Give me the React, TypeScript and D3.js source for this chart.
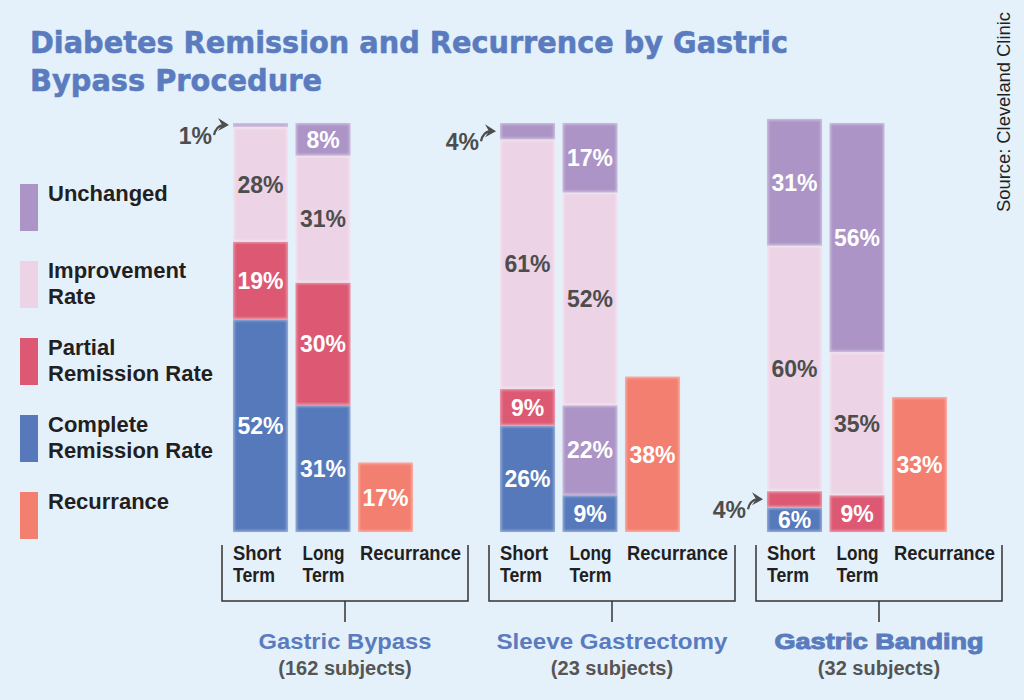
import React from 'react';
import * as d3 from 'd3';

type Seg = { cat: string; value: number };

const groups = ['Gastric Bypass', 'Sleeve Gastrectomy', 'Gastric Banding'];
const subjects = [162, 23, 32];
const terms = ['Short Term', 'Long Term', 'Recurrance'];
const termLines = [['Short', 'Term'], ['Long', 'Term'], ['Recurrance']];

// stacks are listed bottom to top
const shortTerm: Seg[][] = [
  [{ cat: 'complete', value: 52 }, { cat: 'partial', value: 19 }, { cat: 'improvement', value: 28 }, { cat: 'unchanged', value: 1 }],
  [{ cat: 'complete', value: 26 }, { cat: 'partial', value: 9 }, { cat: 'improvement', value: 61 }, { cat: 'unchanged', value: 4 }],
  [{ cat: 'complete', value: 6 }, { cat: 'partial', value: 4 }, { cat: 'improvement', value: 60 }, { cat: 'unchanged', value: 31 }],
];
const longTerm: Seg[][] = [
  [{ cat: 'complete', value: 31 }, { cat: 'partial', value: 30 }, { cat: 'improvement', value: 31 }, { cat: 'unchanged', value: 8 }],
  [{ cat: 'complete', value: 9 }, { cat: 'unchanged', value: 22 }, { cat: 'improvement', value: 52 }, { cat: 'unchanged', value: 17 }],
  [{ cat: 'complete', value: 0 }, { cat: 'partial', value: 9 }, { cat: 'improvement', value: 35 }, { cat: 'unchanged', value: 56 }],
];
const recurrance = [17, 38, 33];

const legendKeys = ['unchanged', 'improvement', 'partial', 'complete', 'recurrance'];
const legendLabels = [
  ['Unchanged'],
  ['Improvement', 'Rate'],
  ['Partial', 'Remission Rate'],
  ['Complete', 'Remission Rate'],
  ['Recurrance'],
];

const titleLines = ['Diabetes Remission and Recurrence by Gastric', 'Bypass Procedure'];
const source = 'Source: Cleveland Clinic';

const color = d3.scaleOrdinal<string, string>()
  .domain(legendKeys)
  .range(['#ac94c7', '#ecd3e6', '#dc5873', '#5779bb', '#f37f6f']);

const BG = '#e4f1fb';
const BLUE_TEXT = '#5a7cbf';
const DARK = '#231f20';
const GREY = '#4d4d4d';
const SANS = "'Liberation Sans', Arial, sans-serif";

const y = d3.scaleLinear().domain([0, 100]).range([532, 123]);
const gx = d3.scaleBand<string>().domain(groups).range([233, 233 + 267 * 3]);
const bx = d3.scaleBand<string>().domain(terms).range([0, 180]).paddingInner(0.12);

// soft-edged bar segment
const Block: React.FC<{ x: number; y0: number; y1: number; w: number; fill: string }> = ({ x, y0, y1, w, fill }) => {
  const h = y0 - y1;
  const edge = d3.interpolateRgb(fill, '#ffffff')(0.4);
  return (
    <g>
      <rect x={x} y={y1} width={w} height={h} fill={edge} />
      <rect x={x + 1.5} y={y1 + 1.5} width={w - 3} height={Math.max(0, h - 3)} fill={fill} filter="url(#soft)" />
    </g>
  );
};

// small value pointed at with an arrow, for slivers too thin to hold a label
const Callout: React.FC<{ tipX: number; tipY: number; value: number }> = ({ tipX, tipY, value }) => {
  return (
    <g>
      <path d={`M${tipX - 14},${tipY + 10} Q${tipX - 12},${tipY + 1} ${tipX - 5},${tipY}`} fill="none" stroke={GREY} strokeWidth={2.2} />
      <path d={`M${tipX + 1},${tipY} L${tipX - 10},${tipY - 7} L${tipX - 6},${tipY} L${tipX - 10},${tipY + 6} Z`} fill={GREY} />
      <text x={tipX - 16} y={tipY + 19} textAnchor="end" fontFamily={SANS} fontWeight="bold" fontSize={23} fill={GREY}>
        {value}%
      </text>
    </g>
  );
};

const Stack: React.FC<{ segs: Seg[]; x: number; w: number }> = ({ segs, x, w }) => {
  const tops = Array.from(d3.cumsum(segs, d => d.value));
  return (
    <g>
      {segs.map((s, i) => {
        if (s.value <= 0) return null;
        const lo = tops[i] - s.value;
        return <Block key={i} x={x} y0={y(lo)} y1={y(tops[i])} w={w} fill={color(s.cat)} />;
      })}
      {segs.map((s, i) => {
        if (s.value <= 0) return null;
        const mid = (y(tops[i] - s.value) + y(tops[i])) / 2;
        if (s.value < 5) return <Callout key={'c' + i} tipX={x - 5} tipY={mid} value={s.value} />;
        return (
          <text key={'t' + i} x={x + w / 2} y={mid} dy="0.36em" textAnchor="middle" fontFamily={SANS}
            fontWeight="bold" fontSize={23} fill={s.cat === 'improvement' ? GREY : '#ffffff'}>
            {s.value}%
          </text>
        );
      })}
    </g>
  );
};

const groupNameLen = [173, 231, 209];
const termLen: Record<string, number> = { Short: 48, Term: 42, Long: 42, Recurrance: 101 };
const termOffset = [0, 7, 2];

export default function App() {
  const w = bx.bandwidth();
  return (
    <svg width={1024} height={700} style={{ position: 'absolute', left: 0, top: 0, display: 'block' }}>
      <defs>
        <filter id="soft" x="-10%" y="-10%" width="120%" height="120%">
          <feGaussianBlur stdDeviation={1.1} />
        </filter>
      </defs>
      <rect width={1024} height={700} fill={BG} />

      {/* title */}
      {titleLines.map((t, i) => (
        <text key={t} x={30} y={53 + i * 38} fontFamily="'DejaVu Sans', sans-serif" fontWeight="bold" fontSize={31}
          fill={BLUE_TEXT} stroke={BLUE_TEXT} strokeWidth={0.6} textLength={i === 0 ? 758 : 292} lengthAdjust="spacingAndGlyphs">
          {t}
        </text>
      ))}

      <text transform="translate(1010,212) rotate(-90)" fontFamily={SANS} fontSize={19} fill={DARK}
        textLength={200} lengthAdjust="spacingAndGlyphs">
        {source}
      </text>

      {/* legend */}
      {legendKeys.map((k, i) => {
        const top = 184 + i * 77;
        return (
          <g key={k}>
            <rect x={20} y={top} width={18} height={47} fill={color(k)} />
            {legendLabels[i].map((line, j) => (
              <text key={line} x={48} y={top + 17 + j * 26} fontFamily={SANS} fontWeight="bold" fontSize={22} fill={DARK}>
                {line}
              </text>
            ))}
          </g>
        );
      })}

      {groups.map((g, gi) => {
        const x0 = gx(g)!;
        const rx = x0 + bx('Recurrance')!;
        return (
          <g key={g}>
            <Stack segs={shortTerm[gi]} x={x0 + bx('Short Term')!} w={w} />
            <Stack segs={longTerm[gi]} x={x0 + bx('Long Term')!} w={w} />
            <Block x={rx} y0={y(0)} y1={y(recurrance[gi])} w={w} fill={color('recurrance')} />
            <text x={rx + w / 2} y={(y(0) + y(recurrance[gi])) / 2} dy="0.36em" textAnchor="middle"
              fontFamily={SANS} fontWeight="bold" fontSize={23} fill="#ffffff">
              {recurrance[gi]}%
            </text>

            {/* category labels */}
            {terms.map((t, ti) => (
              termLines[ti].map((line, li) => (
                <text key={t + line} x={x0 + bx(t)! + termOffset[ti]} y={560 + li * 22} fontFamily={SANS}
                  fontWeight="bold" fontSize={20} fill={DARK} textLength={termLen[line]} lengthAdjust="spacingAndGlyphs">
                  {line}
                </text>
              ))
            ))}

            <path d={`M${x0 - 11},545 V601 H${x0 + 235} V545`} fill="none" stroke="#333" strokeWidth={1.5} />
            <path d={`M${x0 + 112},601 V622`} fill="none" stroke="#333" strokeWidth={1.5} />

            <text x={x0 + 112} y={649} textAnchor="middle" fontFamily={SANS} fontWeight="bold" fontSize={22}
              fill={BLUE_TEXT} stroke={gi === 2 ? BLUE_TEXT : 'none'} strokeWidth={gi === 2 ? 1 : 0}
              textLength={groupNameLen[gi]} lengthAdjust="spacingAndGlyphs">
              {g}
            </text>
            <text x={x0 + 112} y={675} textAnchor="middle" fontFamily={SANS} fontWeight="bold" fontSize={20}
              fill="#555555">
              ({subjects[gi]} subjects)
            </text>
          </g>
        );
      })}
    </svg>
  );
}
